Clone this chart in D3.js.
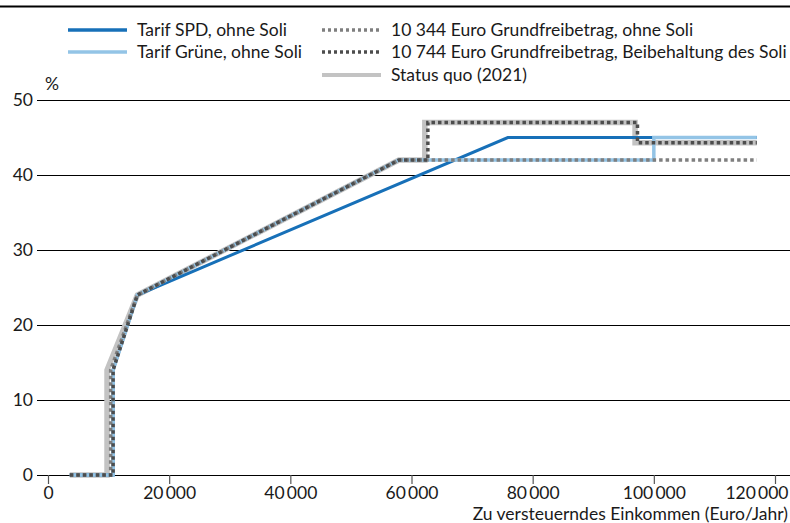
<!DOCTYPE html>
<html><head><meta charset="utf-8">
<script src="https://cdn.jsdelivr.net/npm/d3@7"></script>
<style>
body{margin:0;background:#fff}
text{font-family:Lato,"Open Sans",sans-serif;fill:#1a1a1a;font-size:17.5px}
</style>
</head><body>
<svg id="chart" width="790" height="523"></svg>
<script>
// ---- data ----
const xTicks = [0, 20000, 40000, 60000, 80000, 100000, 120000];
const yTicks = [0, 10, 20, 30, 40, 50];

const statusQuoX = [3600, 9744, 9744, 14753, 57918, 62200, 62200, 96900, 96900, 117000];
const statusQuoY = [0, 0, 14, 24, 42, 42, 47, 47, 44.3, 44.3];

const spdX = [3600, 10744, 10744, 14753, 75900, 117000];
const spdY = [0, 0, 14, 24, 45, 45];

const grueneX = [3600, 10744, 10744, 14753, 57918, 100000, 100000, 117000];
const grueneY = [0, 0, 14, 24, 42, 42, 45, 45];

const gfb10344X = [3600, 10344, 10344, 14753, 57918, 117000];
const gfb10344Y = [0, 0, 14, 24, 42, 42];

const gfb10744X = [3600, 10744, 10744, 14753, 57918, 62700, 62700, 97300, 97300, 117000];
const gfb10744Y = [0, 0, 14, 24, 42, 42, 47, 47, 44.3, 44.3];

const legendLabels = [
  "Tarif SPD, ohne Soli",
  "Tarif Grüne, ohne Soli",
  "10 344 Euro Grundfreibetrag, ohne Soli",
  "10 744 Euro Grundfreibetrag, Beibehaltung des Soli",
  "Status quo (2021)"
];
const xTitle = "Zu versteuerndes Einkommen (Euro/Jahr)";
const yUnit = "%";

// ---- chart ----
const svg = d3.select("#chart");
const x = d3.scaleLinear().domain([0, 120000]).range([48, 775]);
const y = d3.scaleLinear().domain([0, 50]).range([475, 100]);
const loc = d3.formatLocale({decimal: ",", thousands: "\u2009", grouping: [3], currency: ["", "€"]});
const fmt = loc.format(",");

// top rule
svg.append("line").attr("x1", 0).attr("x2", 790).attr("y1", 6.5).attr("y2", 6.5)
  .attr("stroke", "#000").attr("stroke-width", 2);

// grid + y labels
const gridStart = 37;
const yAxis = d3.axisLeft(y).tickValues(yTicks).tickSize(-(790 - gridStart)).tickPadding(4).tickFormat(d3.format("d"));
const gy = svg.append("g").attr("transform", `translate(${gridStart},0)`).call(yAxis);
gy.select(".domain").remove();
gy.selectAll(".tick line").attr("stroke", "#000").attr("stroke-width", 1.2);
gy.selectAll(".tick text").attr("font-size", 17.5).attr("fill", "#1a1a1a").style("font-family", "Lato");

svg.append("text").attr("x", 45).attr("y", 90).text(yUnit);

// x axis ticks and labels
const xAxis = d3.axisBottom(x).tickValues(xTicks).tickSize(9).tickPadding(3).tickFormat(fmt);
const gx = svg.append("g").attr("transform", "translate(0,475)").call(xAxis);
gx.select(".domain").remove();
gx.selectAll(".tick line").attr("stroke", "#555").attr("stroke-width", 1.2);
gx.selectAll(".tick text").attr("font-size", 17.5).attr("fill", "#1a1a1a").style("font-family", "Lato");
// keep the last label inside the canvas
gx.selectAll(".tick").filter(d => d === xTicks[xTicks.length - 1]).select("text")
  .attr("text-anchor", "end").attr("x", 788 - x(xTicks[xTicks.length - 1]));

svg.append("text").attr("x", 788).attr("y", 520).attr("text-anchor", "end").text(xTitle);

// lines
const line = d3.line().x(d => x(d[0])).y(d => y(d[1]));
const zip = (a, b) => a.map((v, i) => [v, b[i]]);
const series = [
  {xs: statusQuoX, ys: statusQuoY, color: "#c3c3c3", w: 5.5, dash: null},
  {xs: spdX, ys: spdY, color: "#1770b8", w: 3, dash: null},
  {xs: grueneX, ys: grueneY, color: "#93c4e6", w: 3.5, dash: null},
  {xs: gfb10344X, ys: gfb10344Y, color: "#7f7f7f", w: 3.5, dash: "3.5,3"},
  {xs: gfb10744X, ys: gfb10744Y, color: "#4d4d4d", w: 3.5, dash: "3.5,3"}
];
series.forEach(s => {
  svg.append("path").datum(zip(s.xs, s.ys)).attr("d", line)
    .attr("fill", "none").attr("stroke", s.color).attr("stroke-width", s.w)
    .attr("stroke-dasharray", s.dash).attr("stroke-linejoin", "miter");
});

// legend
const legendItems = [
  {label: legendLabels[0], color: "#1770b8", w: 3.5, dash: null, lx: 68, ly: 30},
  {label: legendLabels[1], color: "#93c4e6", w: 3.5, dash: null, lx: 68, ly: 52},
  {label: legendLabels[2], color: "#7f7f7f", w: 3.5, dash: "3,3", lx: 322, ly: 30},
  {label: legendLabels[3], color: "#4d4d4d", w: 3.5, dash: "3,3", lx: 322, ly: 52},
  {label: legendLabels[4], color: "#c3c3c3", w: 4, dash: null, lx: 322, ly: 75}
];
legendItems.forEach(it => {
  svg.append("line").attr("x1", it.lx).attr("x2", it.lx + 59).attr("y1", it.ly).attr("y2", it.ly)
    .attr("stroke", it.color).attr("stroke-width", it.w).attr("stroke-dasharray", it.dash);
  svg.append("text").attr("x", it.lx + 69).attr("y", it.ly + 6).text(it.label);
});
</script>
</body></html>
